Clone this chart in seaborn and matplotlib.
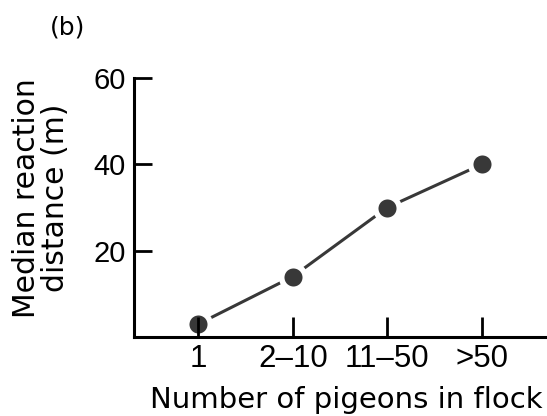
import matplotlib
matplotlib.use("Agg")
import matplotlib.pyplot as plt
import seaborn as sns
import pandas as pd

categories = ["1", "2\u201310", "11\u201350", ">50"]
values = [3, 14, 30, 40]
yticks = [20, 40, 60]

sns.set_theme(style="white")
plt.rcParams["font.family"] = ["DejaVu Sans"]

df = pd.DataFrame({"flock": categories, "dist": values})

fig = plt.figure(figsize=(5.47, 4.16), dpi=100)
ax = fig.add_axes([134 / 547, 1 - 337 / 416, 1 - 134 / 547, (337 - 78) / 416])

ink = "#383838"
sns.lineplot(data=df, x="flock", y="dist", sort=False, ax=ax, color=ink,
             linewidth=2.2, marker="o", markersize=17,
             markerfacecolor=ink, markeredgecolor="white", markeredgewidth=4)

ax.set_xlim(-0.68, 3.69)
ax.set_ylim(0, 60)
ax.set_yticks(yticks)
ax.set_xticks(range(len(categories)))
ax.set_xticklabels(categories)
ax.set_axisbelow(False)

for s in ["top", "right"]:
    ax.spines[s].set_visible(False)
for s in ["left", "bottom"]:
    ax.spines[s].set_color("black")
    ax.spines[s].set_linewidth(2.2)

ax.tick_params(axis="x", bottom=True, direction="in", length=14.5, width=2.0,
               color="black", labelsize=22.5, pad=5, labelcolor="black")
ax.tick_params(axis="y", left=True, direction="in", length=13, width=2.0,
               color="black", labelsize=21, pad=6, labelcolor="black")
for lab in ax.get_xticklabels() + ax.get_yticklabels():
    lab.set_fontfamily("Liberation Sans")
ax.set_xlabel("")
ax.set_ylabel("")

fig.text(346 / 547, 1 - 408 / 416, "Number of pigeons in flock", ha="center",
         va="baseline", fontsize=21, color="black")
fig.text(41 / 547, 1 - 198 / 416, "Median reaction\ndistance (m)", rotation=90,
         ha="center", va="center", multialignment="center", fontsize=21.5,
         linespacing=1.0, color="black")
fig.text(50 / 547, 1 - 34 / 416, "(b)", ha="left", va="baseline", fontsize=18,
         color="black")

fig.savefig("out.png", dpi=100, facecolor="white")
